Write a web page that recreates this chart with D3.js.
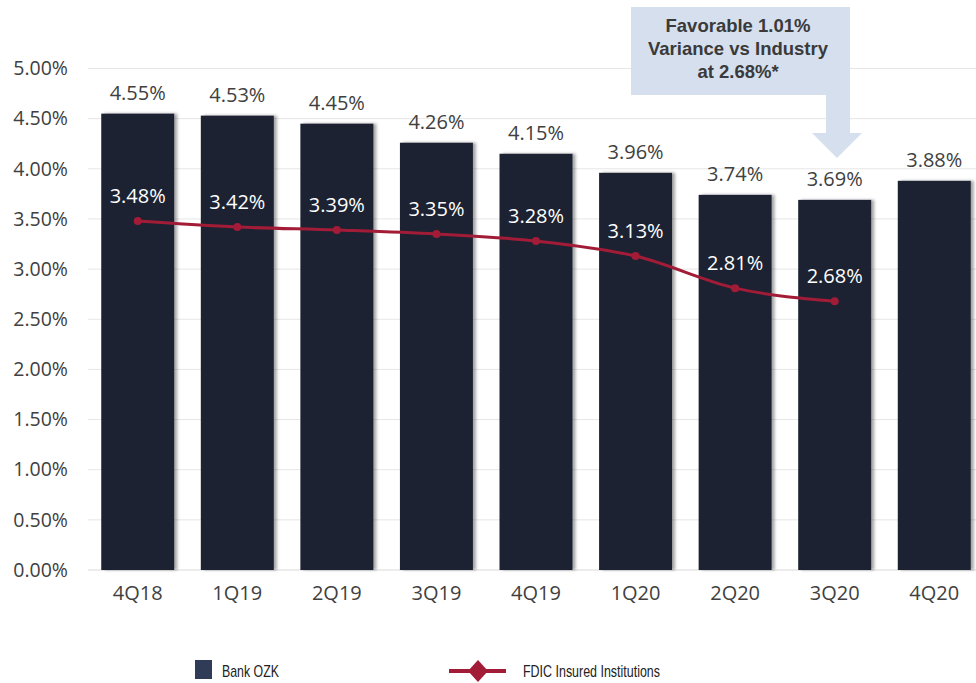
<!DOCTYPE html>
<html>
<head>
<meta charset="utf-8">
<script src="https://cdn.jsdelivr.net/npm/d3@7"></script>
<style>
  body { margin: 0; background: #fff; }
  #chart { width: 976px; height: 683px; }
</style>
</head>
<body>
<div id="chart"></div>
<script>
(function() {
  'use strict';

const quarters = ['4Q18', '1Q19', '2Q19', '3Q19', '4Q19', '1Q20', '2Q20', '3Q20', '4Q20'];
const ozkValues = [4.55, 4.53, 4.45, 4.26, 4.15, 3.96, 3.74, 3.69, 3.88];
const fdicValues = [3.48, 3.42, 3.39, 3.35, 3.28, 3.13, 2.81, 2.68];
const yTicks = [0, 0.5, 1, 1.5, 2, 2.5, 3, 3.5, 4, 4.5, 5];
const seriesNames = ['Bank OZK', 'FDIC Insured Institutions'];
const calloutLines = ['Favorable 1.01%', 'Variance vs Industry', 'at 2.68%*'];

const W = 976;
const H = 683;
const LEFT = 88;
const BOTTOM_Y = 570;
const TOP_Y = 68.5;

const BAR_COLOR = '#1c2331';
const LINE_COLOR = '#a21c37';
const TEXT_COLOR = '#404040';
const FONT = "'Open Sans', sans-serif";
const SANS = "'Liberation Sans', Arial, sans-serif";

const svg = d3.select('#chart')
  .append('svg')
    .attr('width', W)
    .attr('height', H);

const defs = svg.append('defs');
const shadow = defs.append('filter')
  .attr('id', 'barShadow')
  .attr('x', '-10%').attr('y', '-10%')
  .attr('width', '130%').attr('height', '120%');
shadow.append('feDropShadow')
  .attr('dx', 3).attr('dy', 0)
  .attr('stdDeviation', 1.6)
  .attr('flood-color', '#000')
  .attr('flood-opacity', 0.35);

const xScale = d3.scaleBand()
  .domain(quarters)
  .range([LEFT, LEFT + 896])
  .paddingInner(0.267)
  .paddingOuter(0.133);

const yScale = d3.scaleLinear()
  .domain([0, 5])
  .range([BOTTOM_Y, TOP_Y]);

// gridlines
svg.append('g')
  .selectAll('line')
  .data(yTicks)
  .enter()
  .append('line')
    .attr('x1', LEFT)
    .attr('x2', W)
    .attr('y1', d => yScale(d))
    .attr('y2', d => yScale(d))
    .attr('stroke', d => d === 0 ? '#d9d9d9' : '#e6e6e6')
    .attr('stroke-width', 1);

// y axis labels
const yAxis = d3.axisLeft(yScale)
  .tickValues(yTicks)
  .tickSize(0)
  .tickPadding(0)
  .tickFormat(d => d.toFixed(2) + '%');

svg.append('g')
  .attr('transform', 'translate(68,0)')
  .call(yAxis)
  .call(g => g.select('.domain').remove())
  .selectAll('text')
    .attr('font-family', FONT)
    .attr('font-size', 19.5)
    .attr('fill', TEXT_COLOR);

// x axis labels
const xAxis = d3.axisBottom(xScale).tickSize(0).tickPadding(0);
svg.append('g')
  .attr('transform', `translate(0, ${BOTTOM_Y + 16})`)
  .call(xAxis)
  .call(g => g.select('.domain').remove())
  .selectAll('text')
    .attr('font-family', FONT)
    .attr('font-size', 20)
    .attr('fill', TEXT_COLOR);

// bars
svg.append('g')
  .selectAll('rect')
  .data(ozkValues)
  .enter()
  .append('rect')
    .attr('x', (d, i) => xScale(quarters[i]))
    .attr('y', d => yScale(d))
    .attr('width', xScale.bandwidth())
    .attr('height', d => BOTTOM_Y - yScale(d))
    .attr('fill', BAR_COLOR)
    .attr('filter', 'url(#barShadow)');

// bar labels
svg.append('g')
  .selectAll('text')
  .data(ozkValues)
  .enter()
  .append('text')
    .attr('x', (d, i) => xScale(quarters[i]) + xScale.bandwidth() / 2)
    .attr('y', d => yScale(d) - 14)
    .attr('text-anchor', 'middle')
    .attr('font-family', FONT)
    .attr('font-size', 20)
    .attr('fill', TEXT_COLOR)
    .text(d => d.toFixed(2) + '%');

// FDIC line
const line = d3.line()
  .x((d, i) => xScale(quarters[i]) + xScale.bandwidth() / 2)
  .y(d => yScale(d))
  .curve(d3.curveMonotoneX);

svg.append('path')
  .datum(fdicValues)
  .attr('d', line)
  .attr('fill', 'none')
  .attr('stroke', LINE_COLOR)
  .attr('stroke-width', 3);

svg.append('g')
  .selectAll('circle')
  .data(fdicValues)
  .enter()
  .append('circle')
    .attr('cx', (d, i) => xScale(quarters[i]) + xScale.bandwidth() / 2)
    .attr('cy', d => yScale(d))
    .attr('r', 4)
    .attr('fill', LINE_COLOR);

svg.append('g')
  .selectAll('text')
  .data(fdicValues)
  .enter()
  .append('text')
    .attr('x', (d, i) => xScale(quarters[i]) + xScale.bandwidth() / 2)
    .attr('y', d => yScale(d) - 18)
    .attr('text-anchor', 'middle')
    .attr('font-family', FONT)
    .attr('font-size', 20)
    .attr('fill', '#ffffff')
    .text(d => d.toFixed(2) + '%');

// callout box with down arrow
const callout = svg.append('g');
callout.append('path')
  .attr('d', 'M631,7 H850 V133 H862 L837,158 L812,133 H826 V95 H631 Z')
  .attr('fill', '#d5dfee');

callout.selectAll('text')
  .data(calloutLines)
  .enter()
  .append('text')
    .attr('x', 738)
    .attr('y', (d, i) => 31.5 + i * 23)
    .attr('text-anchor', 'middle')
    .attr('font-family', SANS)
    .attr('font-weight', 'bold')
    .attr('font-size', 18.5)
    .attr('fill', '#3a3a3a')
    .text(d => d);

// legend (narrow face in the original, so squeeze the text)
const legend = svg.append('g');
legend.append('rect')
  .attr('x', 195).attr('y', 660)
  .attr('width', 17).attr('height', 19)
  .attr('fill', '#2f3b57');
legend.append('text')
  .attr('x', 222).attr('y', 677)
  .attr('font-family', SANS)
  .attr('font-size', 17)
  .attr('fill', '#222')
  .attr('textLength', 57)
  .attr('lengthAdjust', 'spacingAndGlyphs')
  .text(seriesNames[0]);

legend.append('line')
  .attr('x1', 449).attr('x2', 506)
  .attr('y1', 671).attr('y2', 671)
  .attr('stroke', LINE_COLOR)
  .attr('stroke-width', 4);
legend.append('path')
  .attr('d', 'M478,660 L488,671 L478,682 L468,671 Z')
  .attr('fill', LINE_COLOR);
legend.append('text')
  .attr('x', 523).attr('y', 677)
  .attr('font-family', SANS)
  .attr('font-size', 17)
  .attr('fill', '#222')
  .attr('textLength', 137)
  .attr('lengthAdjust', 'spacingAndGlyphs')
  .text(seriesNames[1]);

})();
</script>
</body>
</html>
